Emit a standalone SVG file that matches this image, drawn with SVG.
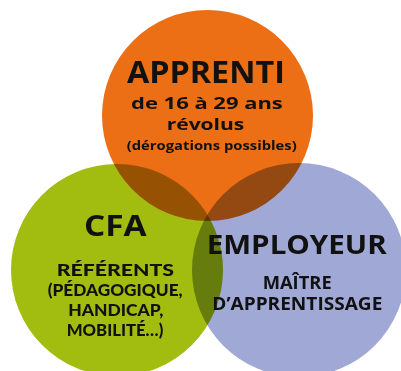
<svg xmlns="http://www.w3.org/2000/svg" width="401" height="371" viewBox="0 0 401 371">
<style>
.c{mix-blend-mode:multiply}
text{font-family:"Open Sans",Lato,"DejaVu Sans",sans-serif;font-weight:700;fill:#111;text-anchor:middle}
.l{font-family:Lato,"Open Sans",sans-serif;font-weight:900}
</style>
<rect width="401" height="371" fill="#fff"/>
<g id="circles" style="isolation:isolate">
<circle id="apprenti-circle" class="c" cx="207.5" cy="115.5" r="105.5" fill="#EC6E15"/>
<circle id="cfa-circle" class="c" cx="117" cy="270" r="106" fill="#A2BD0F"/>
<circle id="employeur-circle" class="c" cx="299" cy="270" r="107" fill="#A0A8D6"/>
</g>
<g id="apprenti">
<text x="205.9" y="83.3" font-size="31" textLength="158" lengthAdjust="spacingAndGlyphs">APPRENTI</text>
<text x="206.9" y="109" font-size="16.5" textLength="151.7" lengthAdjust="spacingAndGlyphs">de 16 à 29 ans</text>
<text x="205.5" y="130" font-size="16.5" textLength="77.6" lengthAdjust="spacingAndGlyphs">révolus</text>
<text x="211.7" y="150" font-size="13" textLength="170" lengthAdjust="spacingAndGlyphs">(dérogations possibles)</text>
</g>
<g id="cfa">
<text x="115.3" y="235.7" font-size="29" textLength="62.7" lengthAdjust="spacingAndGlyphs">CFA</text>
<text class="l" x="115.3" y="276" font-size="16.6" textLength="117.3" lengthAdjust="spacingAndGlyphs">RÉFÉRENTS</text>
<text class="l" x="115.2" y="296" font-size="16.6" textLength="135" lengthAdjust="spacingAndGlyphs">(PÉDAGOGIQUE,</text>
<text class="l" x="115.8" y="316" font-size="16.6" textLength="95" lengthAdjust="spacingAndGlyphs">HANDICAP,</text>
<text class="l" x="115" y="336" font-size="16.6" textLength="96.6" lengthAdjust="spacingAndGlyphs">MOBILITÉ…)</text>
</g>
<g id="employeur">
<text x="296.7" y="254" font-size="26.6" textLength="180" lengthAdjust="spacingAndGlyphs">EMPLOYEUR</text>
<text x="297.2" y="289" font-size="17" textLength="69" lengthAdjust="spacingAndGlyphs">MAÎTRE</text>
<text x="297.3" y="310" font-size="17" textLength="170" lengthAdjust="spacingAndGlyphs">D’APPRENTISSAGE</text>
</g>
</svg>
